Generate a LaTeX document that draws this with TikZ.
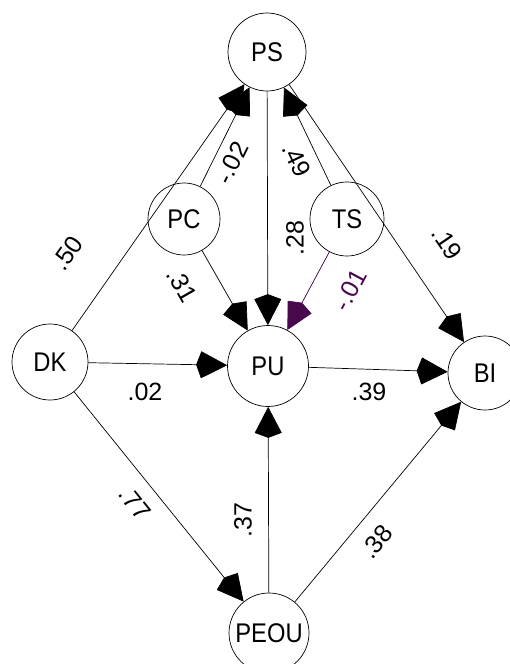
\documentclass[tikz,border=0pt]{standalone}
\usepackage{fontspec}
\setmainfont{Liberation Sans}
\newfontfamily\nodefont[FakeStretch=0.88]{Liberation Sans}
\usetikzlibrary{arrows.meta}
\definecolor{purp}{RGB}{72,8,78}
\begin{document}
\begin{tikzpicture}[x=1pt,y=-1pt,
 latent/.style={circle,draw,line width=0.7pt,inner sep=0pt,font=\nodefont\fontsize{27}{30}\selectfont},
 link/.style={line width=0.7pt,-{Kite[length=31pt,width=27pt,inset=5pt]}},
 coef/.style={font=\fontsize{25}{28}\selectfont,inner sep=0pt}]
\useasboundingbox (0,0) rectangle (510,664);
\node[latent,minimum size=78pt] (PS) at (267,52) {PS};
\node[latent,minimum size=72pt] (PC) at (184,219) {PC};
\node[latent,minimum size=74pt] (TS) at (347,219) {TS};
\node[latent,minimum size=76pt] (DK) at (50,362) {DK};
\node[latent,minimum size=81pt] (PU) at (268,366) {PU};
\node[latent,minimum size=74pt] (BI) at (485,373) {BI};
\node[latent,minimum size=80pt] (PEOU) at (269,633) {PEOU};

\draw[link] (DK) -- (PS);
\draw[link] (PC) -- (PS);
\draw[link] (TS) -- (PS);
\draw[link] (PS) -- (PU);
\draw[link] (PS) -- (BI);
\draw[link] (PC) -- (PU);
\draw[link,draw=purp,fill=purp] (TS) -- (PU);
\draw[link] (DK) -- (PU);
\draw[link] (PU) -- (BI);
\draw[link] (DK) -- (PEOU);
\draw[link] (PEOU) -- (PU);
\draw[link] (PEOU) -- (BI);

\node[coef,rotate=55] (l50) at (67,253) {.50};
\node[coef,rotate=63.6] (l02a) at (232,163) {-.02};
\node[coef,rotate=-64.4] (l49) at (297,160) {.49};
\node[coef,rotate=90] (l28) at (295,238) {.28};
\node[coef,rotate=-55.8] (l19) at (447,243) {.19};
\node[coef,rotate=-60.3] (l31) at (182,285) {.31};
\node[coef,rotate=61.7,text=purp] (l01) at (350,290) {-.01};
\node[coef] (l02) at (145,392) {.02};
\node[coef] (l39) at (369,392) {.39};
\node[coef,rotate=-51.1] (l77) at (135,503) {.77};
\node[coef,rotate=90] (l37) at (243,520) {.37};
\node[coef,rotate=50.3] (l38) at (377,542) {.38};
\end{tikzpicture}
\end{document}
